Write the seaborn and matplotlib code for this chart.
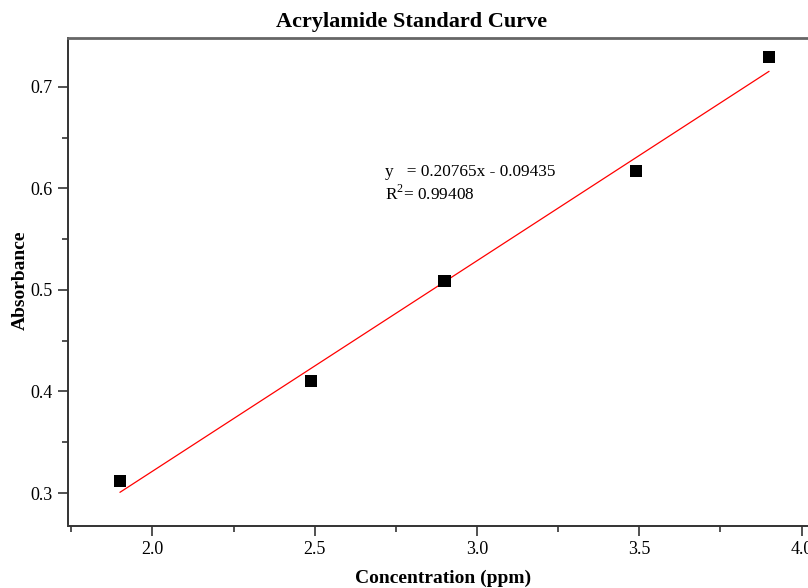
import matplotlib
matplotlib.use("Agg")
import matplotlib.pyplot as plt
from matplotlib.ticker import MultipleLocator, FormatStrFormatter
import seaborn as sns
import pandas as pd

concentration = [1.9, 2.49, 2.9, 3.49, 3.9]
absorbance = [0.312, 0.41, 0.509, 0.617, 0.729]
equation_text = "y   = 0.20765x - 0.09435"
r2_text = "R$^2$= 0.99408"

df = pd.DataFrame({"Concentration (ppm)": concentration, "Absorbance": absorbance})

sns.set_theme(style="ticks")
plt.rcParams["font.family"] = ["Liberation Serif", "DejaVu Serif"]
plt.rcParams["mathtext.fontset"] = "custom"
plt.rcParams["mathtext.rm"] = "Liberation Serif"
plt.rcParams["text.color"] = "black"
plt.rcParams["axes.labelcolor"] = "black"

fig = plt.figure(figsize=(8.08, 5.88), dpi=100)
ax = fig.add_axes([68 / 808, 64 / 588, 1 - 68 / 808, (524 - 37.5) / 588])

sns.regplot(data=df, x="Concentration (ppm)", y="Absorbance", ax=ax, scatter=False,
            ci=None, truncate=True, color="red", line_kws={"lw": 0.9})
sns.scatterplot(data=df, x="Concentration (ppm)", y="Absorbance", ax=ax, marker="s",
                s=76, color="black", edgecolor="none", zorder=3)

ax.set_xlim(1.74, 4.02)
ax.set_ylim(0.2695, 0.7485)
ax.xaxis.set_major_locator(MultipleLocator(0.5))
ax.xaxis.set_minor_locator(MultipleLocator(0.25))
ax.yaxis.set_major_locator(MultipleLocator(0.1))
ax.yaxis.set_minor_locator(MultipleLocator(0.05))
ax.xaxis.set_major_formatter(FormatStrFormatter("%.1f"))
ax.yaxis.set_major_formatter(FormatStrFormatter("%.1f"))
ax.tick_params(which="major", length=7, width=1.2, color="#333333", labelsize=13,
               labelcolor="black", direction="out", pad=4)
ax.tick_params(which="minor", length=4, width=1.2, color="#333333", direction="out")

for side in ["left", "bottom"]:
    ax.spines[side].set_color("#333333")
    ax.spines[side].set_linewidth(1.4)
ax.spines["bottom"].set_position(("outward", 1.5))
ax.spines["top"].set_visible(True)
ax.spines["top"].set_color("#666666")
ax.spines["top"].set_linewidth(2)
ax.spines["right"].set_visible(False)

ax.set_xlabel("Concentration (ppm)", fontsize=14, fontweight="bold")
ax.set_ylabel("Absorbance", fontsize=14, fontweight="bold")
ax.xaxis.set_label_coords((443 - 68) / 740, (524 - 570) / 486.5)
ax.yaxis.set_label_coords((29 - 68) / 740, 0.5)

fig.text(412 / 808, 1 - 22 / 588, "Acrylamide Standard Curve", fontsize=16,
         fontweight="bold", ha="center", va="center")

ax.text(2.717, 0.6165, equation_text, fontsize=12.4, ha="left", va="center")
ax.text(2.717, 0.5945, r2_text, fontsize=12.4, ha="left", va="center")

fig.savefig("out.png", dpi=100)
